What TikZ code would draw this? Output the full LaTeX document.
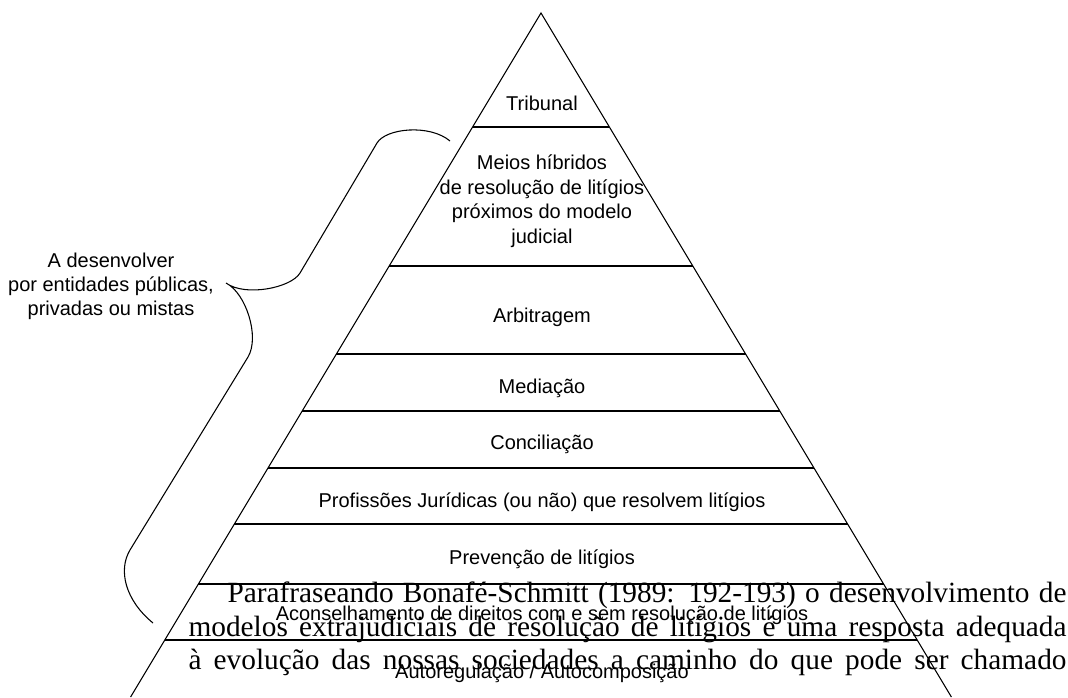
\documentclass[tikz,border=0pt]{standalone}
\usepackage{fontspec}
\setmainfont{Liberation Serif}
\newfontfamily\labfont{Liberation Sans}
\begin{document}
\begin{tikzpicture}[x=0.75pt,y=-0.75pt,line width=0.8pt,
  lab/.style={font=\labfont\fontsize{15}{18}\selectfont,inner sep=0pt,anchor=base},
  para/.style={font=\fontsize{22}{26}\selectfont,inner sep=0pt,anchor=base west}]
\useasboundingbox (0,0) rectangle (1068,697);
% pyramid
\coordinate (apex) at (541,13);
\coordinate (bl) at (130.6,697);
\coordinate (br) at (951.4,697);
\draw (bl) -- (apex) -- (br);
\foreach \y in {127,266,354,411,468,524,584,640} {
  \pgfmathsetmacro\dx{0.6*(\y-13)}
  \draw (541-\dx,\y) -- (541+\dx,\y);
}
% tier labels
\node[lab] (tribunal) at (542,110) {Tribunal};
\node[lab] (m1) at (542,169) {Meios híbridos};
\node[lab] (m2) at (542,194) {de resolução de litígios};
\node[lab] (m3) at (542,218) {próximos do modelo};
\node[lab] (m4) at (542,243) {judicial};
\node[lab] (arb) at (542,322) {Arbitragem};
\node[lab] (med) at (542,393) {Mediação};
\node[lab] (con) at (542,449) {Conciliação};
\node[lab] (pro) at (542,507) {Profissões Jurídicas (ou não) que resolvem litígios};
\node[lab] (pre) at (542,564) {Prevenção de litígios};
\node[lab] (acon) at (542,620) {Aconselhamento de direitos com e sem resolução de litígios};
\node[lab] (auto) at (542,678) {Autoregulação / Autocomposição};
% left label
\node[lab] (l1) at (111,267) {A desenvolver};
\node[lab] (l2) at (111,291) {por entidades públicas,};
\node[lab] (l3) at (111,315) {privadas ou mistas};
% brace
\draw (450,141) .. controls (430,124) and (386,128) .. (377,143)
  -- (300,273) .. controls (291,288) and (245,297) .. (226,283)
  .. controls (246,293) and (260,337) .. (248,357)
  -- (130,550) .. controls (118,570) and (125,600) .. (153,623);
% overlapping paragraph text
\node[para] (p1) at (227,602) {\makebox[629.25pt][s]{Parafraseando Bonafé-Schmitt (1989: 192-193) o desenvolvimento de}};
\node[para] (p2) at (188,636) {\makebox[658.5pt][s]{modelos extrajudiciais de resolução de litígios é uma resposta adequada}};
\node[para] (p3) at (188,669) {\makebox[658.5pt][s]{à evolução das nossas sociedades a caminho do que pode ser chamado}};
\end{tikzpicture}
\end{document}
